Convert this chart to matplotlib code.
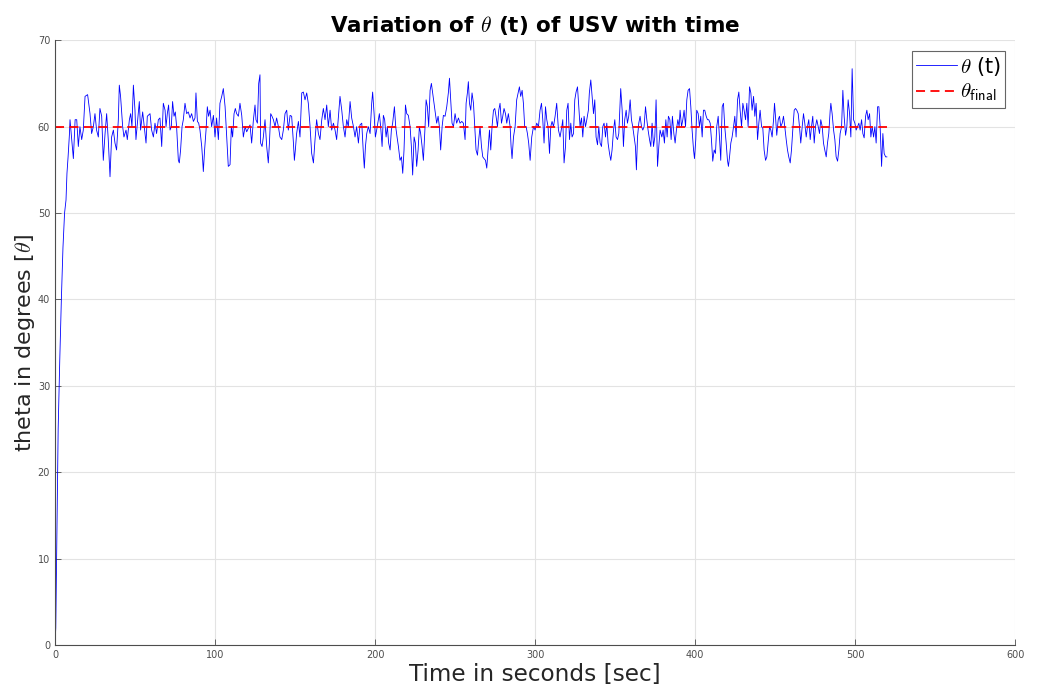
import matplotlib
matplotlib.use("Agg")
import matplotlib.pyplot as plt

plt.rcParams["mathtext.fontset"] = "cm"

# Valores (tempo em s, theta em graus)
t_subida = [0, 0.5, 1, 1.5, 2, 3, 4, 5, 6, 6.9, 7.5, 8.2, 9.0]
theta_subida = [0, 2, 10, 18, 25, 33, 40, 46, 50, 51.5, 54.6, 56.5, 59.0]

t_ruido = [
    9.4, 10.5, 11.5, 12.6, 13.6, 14.6, 15.6, 16.7, 17.7, 18.8, 20.4, 21.9, 22.9, 24.0, 25.0,
    26.0, 27.1, 28.1, 29.2, 30.2, 31.3, 32.3, 33.3, 34.4, 35.4, 36.5, 37.5, 38.5, 39.6, 40.2,
    41.0, 42.3, 43.1, 44.4, 45.2, 46.5, 47.3, 48.1, 49.0, 50.0, 50.6, 51.5, 52.7, 53.5, 54.8,
    56.0, 56.9, 57.7, 59.4, 60.4, 61.5, 62.5, 63.5, 64.6,
    65.6, 66.7, 67.7, 68.8, 69.4, 70.2, 71.0, 71.9, 72.7, 73.5, 74.4, 75.2, 76.0, 77.1, 77.7,
    78.5, 79.4, 80.2, 81.25, 82.3, 83.3, 84.4, 85.4, 86.5, 87.5, 88.1, 89.0, 89.8, 90.6, 91.7,
    92.3, 92.7, 93.5, 94.4, 95.2, 96.0, 96.9, 97.9, 99.0, 100.0, 101.0, 102.1, 103.1, 104.2,
    105.2, 106.3, 107.3, 108.3, 109.4, 110.2, 111.0, 111.9, 112.7, 113.5, 114.6, 115.6, 116.7,
    117.7, 118.8, 119.8, 120.8, 121.9, 122.9, 124.0, 125.0, 125.6, 126.5, 127.3, 128.1,
    128.5, 129.4, 130.2, 131.25, 132.3, 133.3, 134.0, 134.8, 135.6, 136.5, 137.5, 138.5, 139.6,
    140.6, 141.7, 142.7, 143.75, 144.8, 145.8, 146.9, 147.9, 149.0, 149.6, 150.2, 151.0, 152.1,
    153.1, 154.2, 155.2, 156.25, 157.3, 158.3, 159.4, 160.4, 161.5, 162.5, 163.5, 164.6, 165.6,
    166.7, 167.7, 168.75, 169.8, 170.8, 171.9, 172.9, 174.0, 175.0, 176.0, 177.1, 178.1, 179.2,
    180.2, 181.25, 182.3, 183.3, 184.4, 185.4, 186.5, 187.5, 188.5, 189.6, 190.6,
    191.7, 192.7, 193.3, 194.0, 194.8, 195.8, 196.9, 197.9, 198.5, 199.4, 200.2, 201.0, 202.1,
    202.7, 203.5, 204.4, 205.2, 206.0, 206.9, 207.7, 208.5, 209.4, 210.2, 211.0, 212.1, 212.9,
    213.75, 214.6, 215.6, 216.5, 217.3, 218.1, 219.0, 219.8, 220.8, 221.9, 222.7, 223.5, 224.4,
    225.2, 226.0, 226.9, 227.7, 228.5, 229.4, 230.2, 231.25, 231.9, 232.7, 233.5, 234.4, 235.2,
    236.0, 236.9, 237.7, 238.5, 239.4, 240.2, 241.0, 241.9, 242.7, 243.75, 244.8, 245.8, 246.5,
    247.3, 248.1, 249.0, 250.0, 251.0, 252.1, 253.1,
    254.2, 255.2, 256.25, 256.9, 257.7, 258.3, 259.0, 259.8, 260.6, 261.5, 262.3, 263.1, 264.0,
    264.8, 265.6, 266.5, 267.3, 268.1, 269.0, 269.8, 270.6, 271.5, 272.3, 273.1, 274.0, 274.8,
    275.6, 276.5, 277.3, 278.1, 279.0, 279.8, 280.6, 281.5, 282.3, 283.3, 284.4, 285.0, 285.6,
    286.5, 287.5, 288.5, 289.4, 290.2, 291.0, 291.9, 292.7, 293.5, 294.4, 295.2, 296.0, 296.9,
    297.9, 299.0, 300.0, 301.0, 302.1, 303.1, 304.0, 304.8, 305.6, 306.5, 307.3, 308.1, 309.0,
    309.8, 310.6, 311.5, 312.5, 313.5, 314.6, 315.6,
    316.7, 317.3, 318.1, 319.0, 319.8, 320.6, 321.5, 322.3, 323.1, 324.0, 324.8, 325.6, 326.5,
    327.3, 328.1, 329.0, 329.8, 330.6, 331.5, 332.3, 333.3, 333.9, 334.8, 335.6, 336.5, 337.3,
    338.1, 339.0, 339.8, 340.6, 341.5, 342.3, 343.1, 344.0, 344.8, 345.6, 346.5, 347.3, 348.1,
    349.0, 349.8, 350.6, 351.5, 352.3, 353.1, 353.5, 354.4, 355.2, 356.0, 356.9, 357.7, 358.5,
    359.4, 360.2, 361.0, 361.9, 362.7, 363.3, 364.0, 364.8, 365.6, 366.5, 367.3, 368.1, 369.0,
    369.8, 370.6, 371.5, 372.3, 373.1, 374.0, 374.8, 375.6, 376.5, 377.3, 378.1,
    379.2, 380.0, 380.8, 381.7, 382.5, 383.3, 384.2, 385.0, 385.8, 386.7, 387.5, 388.3, 389.2,
    390.0, 390.6, 391.5, 392.3, 393.1, 394.0, 394.8, 395.6, 396.5, 397.3, 398.1, 399.0, 399.6,
    400.4, 401.0, 401.9, 402.7, 403.5, 404.4, 405.2, 406.0, 406.9, 407.7, 408.5, 409.4, 410.2,
    411.0, 411.9, 412.7, 413.5, 414.4, 415.2, 416.0, 416.9, 417.7, 418.5, 419.4, 420.2, 420.8,
    421.5, 422.3, 423.1, 424.0, 424.8, 425.6, 426.5, 427.3, 428.1, 429.0, 429.8, 430.6, 431.5,
    432.3, 433.1, 434.0, 434.8, 435.6, 436.5, 437.3, 438.1, 439.0, 439.8, 440.6,
    441.5, 442.3, 443.1, 444.0, 444.8, 445.6, 446.5, 447.3, 448.1, 449.0, 449.6, 450.2, 451.0,
    451.9, 452.7, 453.5, 454.4, 455.2, 456.0, 456.9, 457.7, 458.5, 459.4, 460.2, 461.0, 461.9,
    462.7, 463.5, 464.4, 465.2, 466.0, 466.9, 467.7, 468.5, 469.4, 470.2, 471.0, 471.9, 472.7,
    473.5, 474.4, 475.2, 476.0, 476.9, 477.7, 478.5, 479.4, 480.2, 481.0, 481.9, 482.7, 483.5,
    484.4, 484.8, 485.6, 486.5, 487.3, 488.1, 489.0, 489.8, 490.6, 491.5, 492.3, 493.1, 494.0,
    494.8, 495.6, 496.5, 497.3, 498.1, 499.0, 499.8, 500.6, 501.5, 502.3, 503.1, 504.0, 504.8,
    505.6, 506.5, 507.3, 508.1, 509.0, 509.8, 510.6, 511.5, 512.3, 513.1, 514.0, 514.8, 515.6,
    516.5, 517.3, 518.1, 519.0, 519.8,
]
theta_ruido = [
    60.8, 58.5, 56.3, 60.8, 60.8, 57.7, 60.0, 58.5, 59.6, 63.5, 63.7, 61.5, 59.2, 60.0, 61.5,
    59.6, 58.8, 62.1, 61.2, 56.1, 59.2, 61.5, 58.5, 54.2, 58.8, 59.6, 58.1, 57.3, 60.8, 64.8,
    63.5, 60.0, 58.8, 59.6, 58.5, 60.8, 61.5, 60.0, 64.8, 61.9, 58.5, 60.4, 62.9, 59.6, 61.7,
    59.6, 58.1, 61.2, 61.5, 59.6, 58.8, 60.4, 59.2, 60.8,
    61.0, 57.7, 62.7, 61.9, 60.0, 61.5, 62.5, 59.6, 60.0, 62.9, 61.2, 61.7, 60.0, 56.1, 55.8,
    57.3, 60.0, 60.8, 62.7, 61.5, 61.7, 61.0, 61.5, 60.6, 61.0, 63.9, 60.6, 60.4, 59.6, 57.7,
    56.1, 54.8, 57.3, 59.6, 62.3, 61.2, 61.9, 60.0, 61.3, 58.8, 61.0, 58.5, 62.7, 63.5,
    64.4, 62.3, 58.8, 55.4, 55.6, 60.0, 58.8, 61.5, 62.1, 61.5, 61.2, 62.7, 61.3,
    58.8, 60.0, 59.4, 59.8, 60.2, 58.1, 60.8, 62.5, 60.8, 60.4, 65.0, 66.0,
    58.1, 57.7, 58.8, 60.8, 57.7, 55.8, 58.1, 61.5, 61.2, 60.8, 60.0, 61.0, 60.0,
    58.8, 58.5, 59.6, 61.5, 61.9, 59.6, 61.3, 61.2, 58.1, 56.1, 57.3, 59.2, 60.6,
    58.8, 63.9, 64.0, 63.1, 63.9, 62.7, 60.0, 56.9, 55.8, 58.5, 60.8, 59.2, 58.5,
    60.8, 62.1, 60.8, 62.5, 60.0, 61.9, 59.6, 60.4, 59.6, 58.5, 61.2, 63.5, 61.9,
    60.0, 58.8, 60.8, 60.0, 62.9, 61.0, 60.0, 58.8, 60.0, 58.1, 60.2,
    60.4, 56.9, 55.2, 57.7, 59.2, 60.0, 59.2, 62.7, 64.0, 61.5, 58.8, 59.6, 60.8,
    61.5, 60.0, 57.7, 61.3, 60.8, 58.8, 60.0, 58.1, 57.3, 59.6, 60.4, 62.3, 60.0,
    58.8, 57.7, 56.1, 56.5, 54.6, 57.3, 62.5, 61.5, 61.3, 60.0, 57.7, 54.4, 58.8,
    58.1, 55.4, 57.3, 60.0, 59.2, 57.7, 56.1, 60.0, 63.1, 62.3, 60.0, 64.2, 65.0,
    63.9, 62.7, 61.5, 60.4, 61.2, 60.0, 57.3, 60.0, 61.3, 61.2, 62.3, 63.9, 65.6,
    63.1, 60.4, 60.0, 61.5, 60.4, 61.0, 60.4,
    60.6, 60.4, 58.5, 62.7, 63.9, 65.2, 62.7, 61.9, 63.9, 62.7, 60.0, 57.3, 56.7,
    58.5, 60.0, 57.7, 56.5, 56.3, 56.1, 55.2, 57.3, 59.6, 57.3, 60.0, 61.9, 62.1,
    61.2, 60.0, 61.9, 62.7, 60.4, 61.2, 62.1, 61.5, 60.4, 61.5, 60.0, 57.7, 56.3,
    58.8, 60.0, 63.1, 63.9, 64.6, 63.5, 64.2, 62.7, 60.0, 60.0, 59.2, 58.1, 56.1,
    58.8, 60.0, 59.6, 60.4, 60.0, 61.9, 62.7, 60.8, 58.1, 62.3, 60.8, 60.0, 56.9,
    60.0, 60.6, 60.0, 61.2, 62.7, 59.6, 58.8,
    60.0, 60.8, 55.8, 57.7, 61.9, 62.7, 58.5, 60.4, 58.8, 59.2, 63.1, 64.0, 64.6,
    62.3, 60.0, 61.0, 58.8, 61.2, 60.0, 60.8, 61.9, 63.9, 65.4, 63.5, 61.5, 63.1,
    58.8, 57.9, 60.0, 58.1, 57.7, 60.0, 60.4, 58.8, 60.4, 58.1, 56.9, 56.1, 57.3,
    59.6, 60.8, 58.8, 58.5, 59.2, 62.7, 64.4, 61.9, 57.7, 60.8, 61.9, 60.4, 61.2,
    63.1, 60.8, 60.0, 58.8, 57.7, 55.0, 58.8, 60.4, 61.2, 60.0, 59.6, 60.0, 62.3,
    60.8, 59.6, 58.5, 57.7, 60.4, 57.7, 58.8, 63.1, 55.4, 57.7, 59.6,
    58.8, 59.6, 58.1, 60.8, 58.8, 61.2, 60.8, 58.5, 61.2, 59.2, 58.1, 59.6, 60.8,
    60.0, 61.9, 60.0, 60.8, 61.9, 60.0, 63.1, 64.2, 64.4, 62.3, 59.6, 57.3, 56.3,
    58.5, 61.9, 61.5, 60.0, 61.2, 58.8, 61.9, 61.9, 61.2, 60.8, 60.8, 60.4, 58.5,
    56.0, 57.3, 56.9, 60.0, 61.2, 58.8, 56.1, 62.3, 62.7, 60.0, 58.1, 56.1, 55.4,
    56.5, 58.1, 58.8, 60.0, 61.2, 58.8, 63.1, 64.0, 61.9, 60.0, 62.7, 61.9, 60.8,
    62.7, 60.0, 64.6, 63.9, 61.9, 63.5, 61.2, 62.7, 58.5, 60.4, 61.9,
    60.0, 59.8, 57.3, 56.1, 56.5, 58.1, 60.0, 59.6, 58.8, 60.8, 62.7, 61.2, 59.0,
    60.8, 61.2, 60.0, 60.4, 61.2, 60.0, 58.5, 57.3, 56.5, 55.8, 57.3, 59.6, 61.9,
    62.1, 61.9, 61.5, 60.0, 58.1, 60.0, 61.5, 60.4, 58.8, 60.0, 60.8, 58.5, 60.0,
    61.2, 58.1, 60.0, 60.8, 60.0, 59.2, 60.8, 60.0, 58.1, 57.3, 56.5, 58.1, 59.2,
    61.9, 62.7, 61.5, 59.6, 58.5, 56.5, 56.0, 57.3, 59.2, 60.0, 64.2, 61.2, 59.0,
    60.0, 63.1, 61.5, 58.8, 66.7, 60.8, 60.4, 59.6, 60.0, 60.4, 59.6, 60.8, 59.2,
    58.7, 61.2, 61.9, 60.8, 61.5, 58.8, 60.0, 58.8, 60.0, 58.1, 62.3, 62.3, 60.0,
    55.4, 59.2, 56.9, 56.5, 56.5,
]

t = t_subida + t_ruido
theta = theta_subida + theta_ruido

theta_final = 60
t_final = [0, 520]

cinza = "#262626"
cinza_eixo = "#4d4d4d"

fig = plt.figure(figsize=(10.37, 6.93), dpi=100)
ax = fig.add_axes([0.053, 0.069, 0.926, 0.873])

ax.plot(t, theta, color="#0000ff", linewidth=0.6, label=r"$\theta$ (t)")
ax.plot(t_final, [theta_final, theta_final], color="#ff0000", linestyle="--",
        linewidth=1.3, dashes=(5, 3), label=r"$\theta_{\mathsf{final}}$")

ax.set_xlim(0, 600)
ax.set_ylim(0, 70)
ax.set_xticks(range(0, 601, 100))
ax.set_yticks(range(0, 71, 10))
ax.tick_params(direction="in", labelsize=7, colors=cinza_eixo, length=4, width=0.6,
               labelcolor=cinza_eixo)
ax.grid(True, color="#e3e3e3", linewidth=0.8)
ax.set_axisbelow(True)
for lado in ["top", "right"]:
    ax.spines[lado].set_visible(False)
for lado in ["left", "bottom"]:
    ax.spines[lado].set_color(cinza_eixo)
    ax.spines[lado].set_linewidth(0.8)

ax.set_title(r"Variation of $\theta$ (t) of USV with time", fontsize=15.5,
             fontweight="bold", pad=6)
ax.set_xlabel("Time in seconds [sec]", fontsize=16.7, color=cinza, labelpad=2)
ax.set_ylabel(r"theta in degrees [$\theta$]", fontsize=16, color=cinza)
ax.yaxis.set_label_coords(-0.019, 0.5)

leg = ax.legend(loc="upper right", fontsize=15, handlelength=2.0, handletextpad=0.1,
                borderpad=0.2, labelspacing=0.2, fancybox=False, framealpha=1,
                borderaxespad=0.5)
leg.get_frame().set_edgecolor("#666666")
leg.get_frame().set_linewidth(0.8)

plt.savefig("out.png", dpi=100)
